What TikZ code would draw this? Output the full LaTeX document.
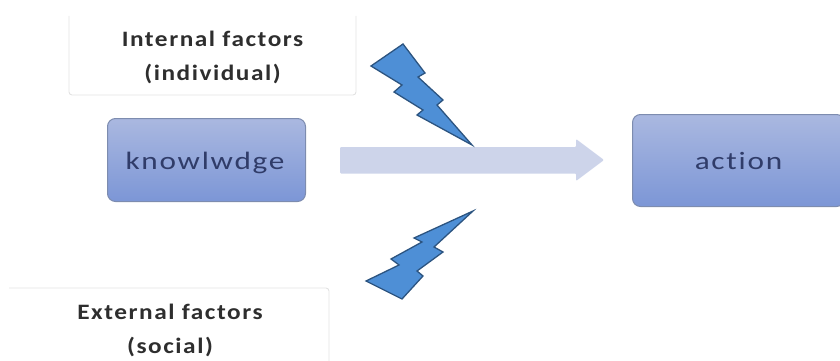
\documentclass[tikz,border=0pt]{standalone}
\usepackage{fontspec}
\setmainfont{Carlito}
\newfontfamily\wide[LetterSpace=7,FakeStretch=1.25,Ligatures=NoCommon]{Carlito}
\newfontfamily\widelabel[LetterSpace=7,FakeStretch=1.15,Ligatures=NoCommon]{Carlito}
\usetikzlibrary{calc}
\definecolor{boxtop}{RGB}{170,184,224}
\definecolor{boxbot}{RGB}{124,150,214}
\definecolor{boxedge}{RGB}{125,140,175}
\definecolor{boxtext}{RGB}{48,60,105}
\definecolor{paleedge}{RGB}{226,226,226}
\definecolor{boltfill}{RGB}{78,143,214}
\definecolor{boltedge}{RGB}{44,84,128}
\definecolor{arrowfill}{RGB}{205,212,234}
\tikzset{
  blockbox/.style={draw=boxedge,line width=1pt,rounded corners=8pt,top color=boxtop,bottom color=boxbot,
    text=boxtext,font=\wide\fontsize{25}{30}\selectfont,anchor=north west,align=center,inner sep=0pt},
  labeltext/.style={text=black!82,font=\widelabel\bfseries\fontsize{22}{34}\selectfont,align=center,inner sep=0pt},
  paleline/.style={draw=paleedge,line width=.9pt,rounded corners=3pt},
  bolt/.style={fill=boltfill,draw=boltedge,line width=1.3pt,line join=miter,miter limit=8},
  flow/.style={fill=arrowfill,draw=none}
}
\begin{document}
\begin{tikzpicture}[x=1pt,y=-1pt]
\useasboundingbox (0,0) rectangle (840,361);
% pale label boxes (cropped open on one side)
\draw[paleline] (69,16) -- (69,95) -- (356,95) -- (356,16);
\draw[paleline] (9,288) -- (329,288) -- (329,361);
\node[labeltext] (internal) at (212.5,57) {Internal factors\\(individual)};
\node[labeltext] (external) at (170,330) {External factors\\(social)};
% boxes
\node[blockbox,minimum width=198pt,minimum height=83pt,text depth=0pt] (know) at (107,118) {\raisebox{-1.5pt}{\kern-3pt knowlwdge}};
\node[blockbox,minimum width=212pt,minimum height=92pt] (act) at (632,114) {action};
% block arrow
\fill[flow,rounded corners=1pt] (340,147) -- (576,147) -- (576,139) -- (604,160) -- (576,181) -- (576,173.5) -- (340,173.5) -- cycle;
% lightning
\draw[bolt] (403,44) -- (425,73) -- (418,77) -- (443,100) -- (437,105) -- (472,145) -- (417,115) -- (423,110) -- (394,92) -- (402,85) -- (371,66) -- cycle;
\draw[bolt] (473,211) -- (414,238) -- (422,242) -- (391,259) -- (399,265) -- (366,281) -- (402,299) -- (423,276) -- (417,271) -- (443,252) -- (434,247) -- cycle;
\end{tikzpicture}
\end{document}
